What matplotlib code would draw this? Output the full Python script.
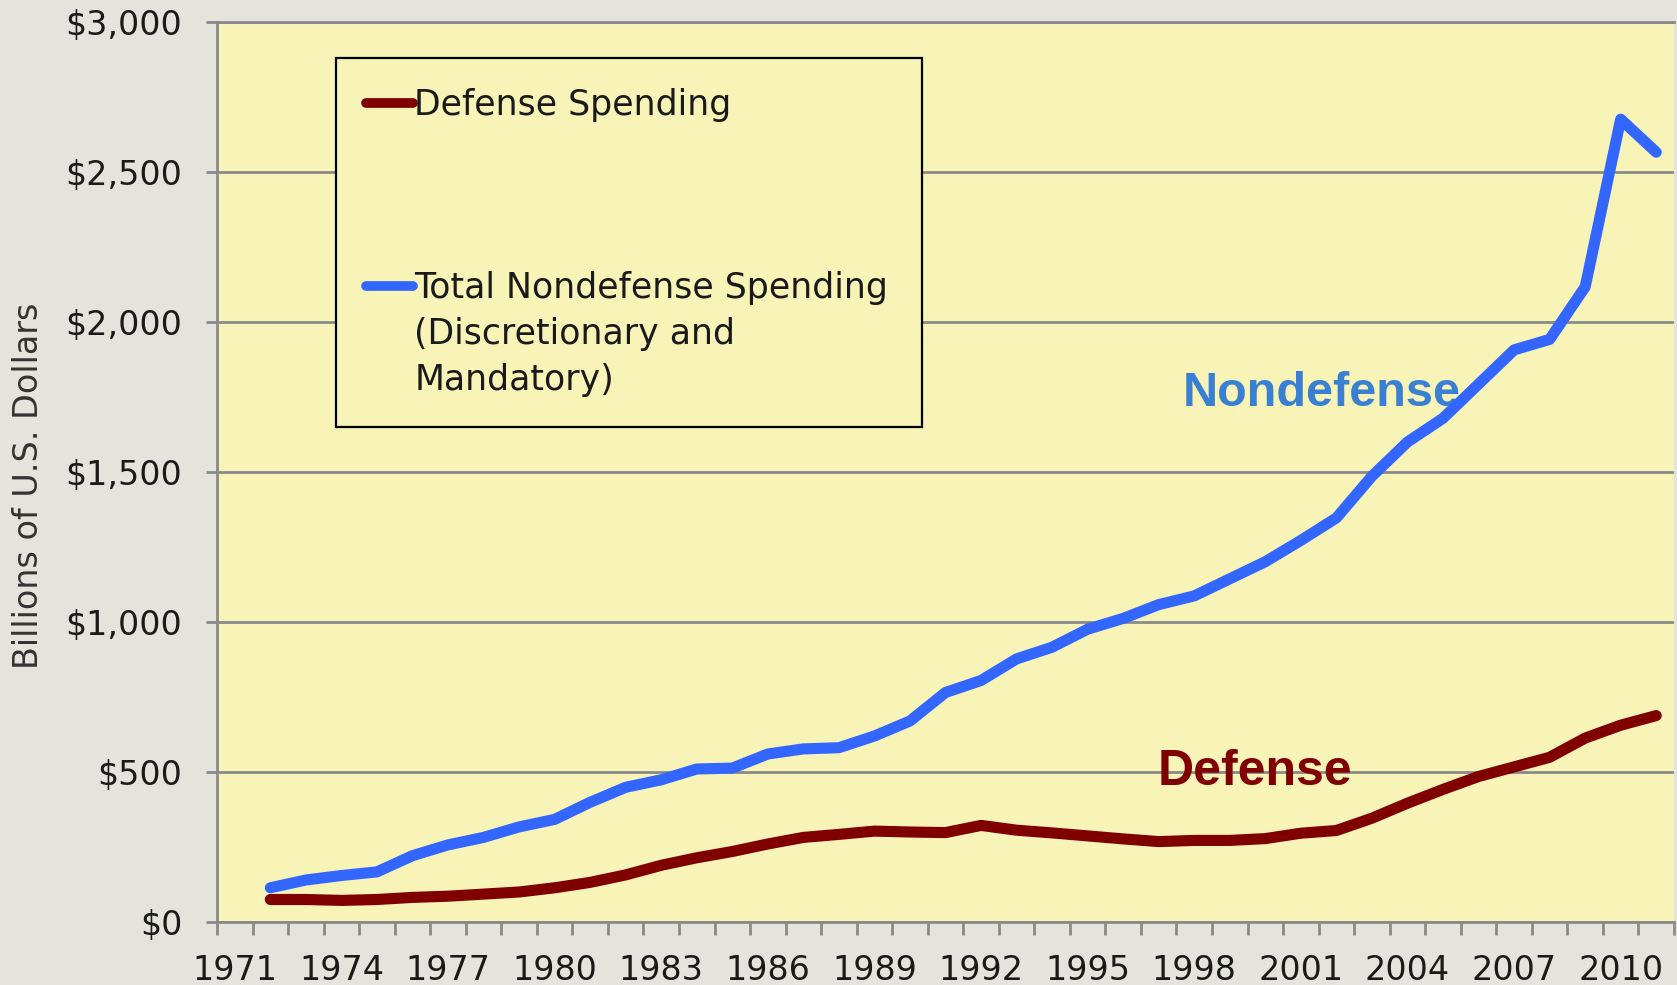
# Defense vs. nondefense federal spending, 1972-2011 (billions of US dollars).
import numpy as np
import matplotlib.pyplot as plt
from matplotlib.lines import Line2D
from matplotlib.ticker import FuncFormatter

COLOR_DEFENSE    = '#800000'
COLOR_NONDEFENSE = '#3366FF'
COLOR_GRID       = '#8A8A8A'
COLOR_PLOT_BG    = '#F8F4B8'
COLOR_FIG_BG     = '#E4E4DD'

years = list(range(1972, 2012))
defense = [75, 75, 72, 75, 82, 86, 93, 100, 114, 132,
           157, 189, 214, 235, 260, 282, 292, 303, 300, 298,
           322, 306, 297, 287, 277, 268, 272, 272, 278, 296,
           305, 346, 396, 442, 485, 517, 549, 613, 656, 688]
nondefense = [114, 140, 155, 167, 221, 257, 282, 317, 342, 399,
              449, 474, 510, 513, 560, 577, 581, 620, 670, 765,
              805, 877, 916, 976, 1012, 1058, 1087, 1144, 1201, 1272,
              1347, 1486, 1600, 1679, 1793, 1907, 1942, 2117, 2676, 2566]
y_ticks = [0, 500, 1000, 1500, 2000, 2500, 3000]
x_label_years = list(range(1971, 2011, 3))

W, H = 1677, 985
fig = plt.figure(figsize=(W / 100, H / 100), dpi=100, facecolor=COLOR_FIG_BG)
ax = fig.add_axes([217 / W, 63 / H, 1457 / W, 900 / H])
ax.set_facecolor(COLOR_PLOT_BG)

line_kw = dict(lw=8, solid_capstyle='round', solid_joinstyle='round', zorder=3)
ax.plot(years, nondefense, color=COLOR_NONDEFENSE, **line_kw)
ax.plot(years, defense, color=COLOR_DEFENSE, **line_kw)

# axes, ticks, grid
ax.set_xlim(1970.5, 2011.5)
ax.set_ylim(0, 3000)
ax.set_yticks(y_ticks)
ax.yaxis.set_major_formatter(FuncFormatter(lambda v, p: f"${v:,.0f}"))
ax.set_xticks(x_label_years)
ax.set_xticks(np.arange(1970.5, 2012, 1), minor=True)
ax.tick_params(axis='x', which='major', length=0, pad=23, labelsize=24,
               labelcolor='#1A1A1A')
ax.tick_params(axis='x', which='minor', length=9, width=2, color=COLOR_GRID)
ax.tick_params(axis='y', length=8, width=2, color=COLOR_GRID, pad=17,
               labelsize=24, labelcolor='#1A1A1A')
ax.grid(axis='y', color=COLOR_GRID, lw=2, zorder=1)
ax.set_axisbelow(True)
for side in ('left', 'bottom', 'top'):
    ax.spines[side].set_color(COLOR_GRID)
    ax.spines[side].set_linewidth(2)
ax.spines['right'].set_visible(False)

ax.set_ylabel('Billions of U.S. Dollars', fontsize=24, color='#333333')
ax.yaxis.set_label_coords(-0.118, 0.485)

# in-chart labels
ax.text(2001.6, 1760, 'Nondefense', color='#3A80D2', fontsize=35,
        fontweight='bold', family='Liberation Sans', ha='center',
        va='center', zorder=2)
ax.text(1999.7, 500, 'Defense', color=COLOR_DEFENSE, fontsize=36,
        fontweight='bold', family='Liberation Sans',
        ha='center', va='center', zorder=2)

# legend: blank rows keep the wide gap and the wrapped label lines
blank = Line2D([], [], linestyle='none')
handles = [Line2D([], [], color=COLOR_DEFENSE, lw=7, solid_capstyle='round'),
           blank, blank, blank,
           Line2D([], [], color=COLOR_NONDEFENSE, lw=7, solid_capstyle='round'),
           blank, blank]
labels = ['Defense Spending', ' ', ' ', ' ', 'Total Nondefense Spending',
          '(Discretionary and', 'Mandatory)']
leg = ax.legend(handles, labels, loc='upper left',
                bbox_to_anchor=(336 / W, 1 - 58 / H, 586 / W, 0),
                bbox_transform=fig.transFigure, mode='expand',
                borderaxespad=0, fontsize=25, handlelength=1.35,
                handletextpad=0.05, labelspacing=0.34, borderpad=0.86,
                fancybox=False, framealpha=1, facecolor=COLOR_PLOT_BG,
                edgecolor='black')
leg.get_frame().set_linewidth(1.6)
for t in leg.get_texts():
    t.set_color('#1A1A1A')

fig.savefig('out.png', dpi=100, facecolor=COLOR_FIG_BG)
